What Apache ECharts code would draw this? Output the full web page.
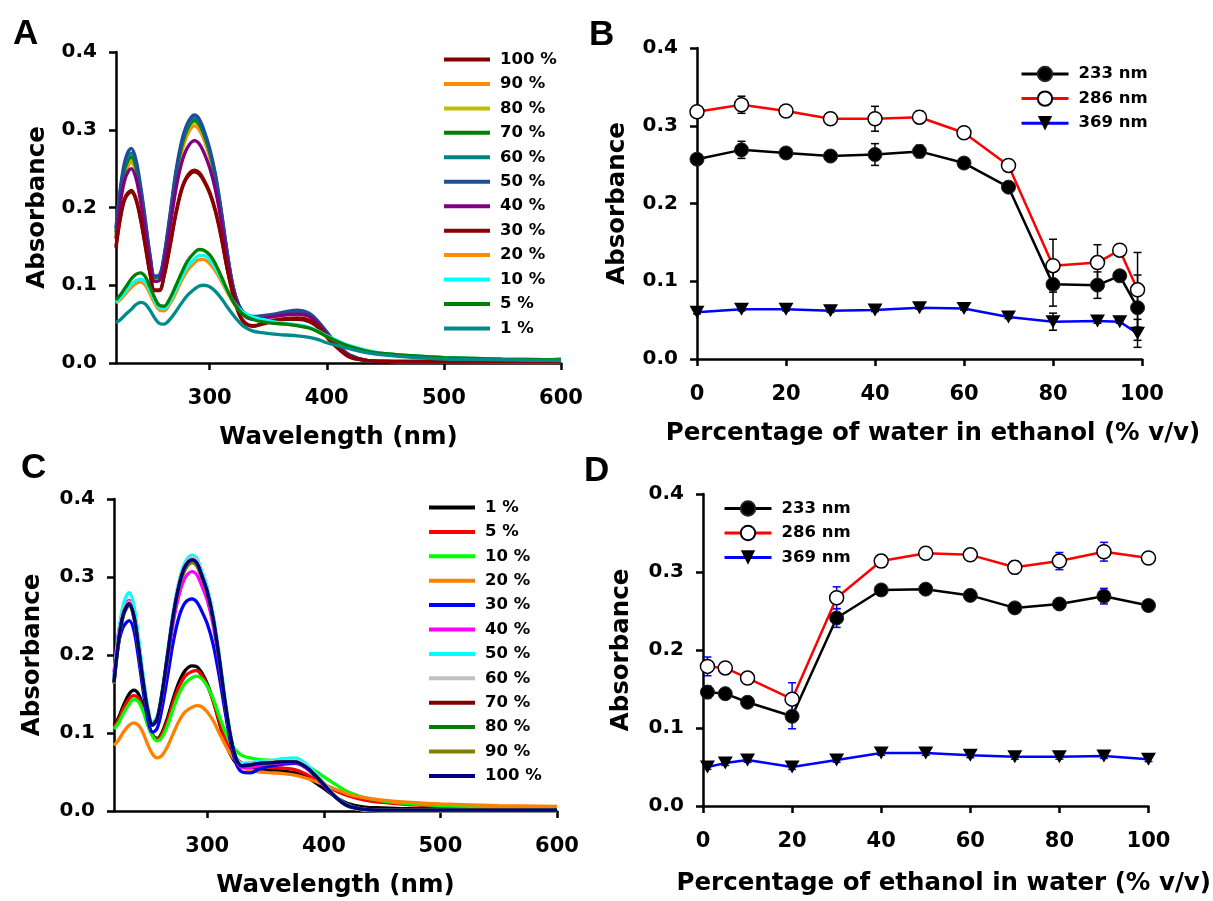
<!DOCTYPE html>
<html><head><meta charset="utf-8">
<script src="https://cdn.jsdelivr.net/npm/echarts@6/dist/echarts.min.js"></script>
<style>html,body{margin:0;padding:0;background:#fff}#c{width:1213px;height:901px}</style>
</head><body><div id="c"></div>
<script>
// ---------- DATA ----------
const wavelengths = [220,224,228,233,237,241,245,249,253,257,261,266,271,276,281,287,291,295,300,305,310,315,320,325,330,337,345,355,365,375,385,393,400,410,420,435,450,475,500,550,600];
const wlTicks = [300,400,500,600];

// Panel A (water in ethanol), legend order
const a100 = [0.148,0.188,0.212,0.220,0.210,0.184,0.150,0.115,0.093,0.093,0.111,0.149,0.190,0.222,0.239,0.246,0.243,0.234,0.218,0.194,0.160,0.120,0.087,0.063,0.051,0.048,0.050,0.054,0.056,0.056,0.053,0.045,0.033,0.018,0.007,0.003,0.002,0.002,0.002,0.003,0.003];
const a90  = [0.160,0.212,0.245,0.258,0.245,0.214,0.175,0.134,0.108,0.109,0.132,0.180,0.234,0.271,0.294,0.305,0.300,0.288,0.265,0.233,0.188,0.138,0.096,0.072,0.061,0.057,0.058,0.060,0.062,0.063,0.059,0.049,0.037,0.020,0.009,0.003,0.002,0.002,0.002,0.002,0.002];
const a80  = [0.165,0.217,0.249,0.262,0.249,0.217,0.177,0.135,0.109,0.110,0.134,0.183,0.238,0.276,0.299,0.310,0.305,0.292,0.269,0.236,0.190,0.139,0.097,0.073,0.062,0.058,0.059,0.061,0.063,0.064,0.060,0.050,0.038,0.021,0.009,0.003,0.002,0.002,0.002,0.002,0.002];
const a70  = [0.168,0.220,0.252,0.265,0.252,0.220,0.179,0.136,0.110,0.111,0.135,0.185,0.240,0.278,0.301,0.312,0.307,0.294,0.271,0.238,0.192,0.140,0.097,0.073,0.062,0.058,0.059,0.061,0.063,0.064,0.061,0.051,0.038,0.021,0.009,0.003,0.002,0.001,0.001,0.001,0.001];
const a60  = [0.172,0.224,0.257,0.270,0.257,0.224,0.182,0.138,0.111,0.112,0.136,0.187,0.242,0.281,0.304,0.315,0.310,0.297,0.273,0.240,0.193,0.141,0.098,0.074,0.063,0.059,0.060,0.062,0.064,0.066,0.062,0.052,0.039,0.021,0.010,0.003,0.002,0.001,0.001,0.001,0.001];
const a50  = [0.174,0.228,0.262,0.276,0.262,0.228,0.185,0.140,0.112,0.113,0.138,0.190,0.245,0.285,0.308,0.319,0.314,0.300,0.276,0.242,0.195,0.142,0.098,0.074,0.064,0.060,0.061,0.063,0.066,0.068,0.064,0.053,0.040,0.022,0.010,0.003,0.002,0.001,0.001,0.001,0.001];
const a40  = [0.160,0.208,0.238,0.250,0.238,0.208,0.170,0.130,0.105,0.106,0.128,0.173,0.222,0.257,0.277,0.286,0.282,0.271,0.251,0.222,0.181,0.134,0.094,0.071,0.060,0.056,0.057,0.060,0.062,0.063,0.060,0.050,0.037,0.020,0.009,0.003,0.002,0.001,0.001,0.002,0.005];
const a30  = [0.150,0.190,0.214,0.222,0.212,0.186,0.152,0.116,0.094,0.094,0.112,0.150,0.192,0.224,0.241,0.248,0.245,0.236,0.220,0.196,0.162,0.122,0.088,0.064,0.052,0.047,0.051,0.055,0.057,0.058,0.055,0.047,0.035,0.019,0.008,0.003,0.002,0.002,0.002,0.002,0.002];
const a20  = [0.077,0.082,0.089,0.097,0.102,0.104,0.100,0.089,0.077,0.068,0.067,0.076,0.090,0.106,0.119,0.129,0.133,0.133,0.128,0.118,0.105,0.091,0.078,0.068,0.062,0.057,0.054,0.052,0.050,0.048,0.045,0.040,0.034,0.027,0.021,0.015,0.012,0.009,0.007,0.005,0.004];
const a10  = [0.078,0.084,0.092,0.101,0.106,0.108,0.104,0.093,0.080,0.071,0.070,0.079,0.094,0.110,0.124,0.134,0.138,0.138,0.133,0.122,0.108,0.093,0.080,0.070,0.064,0.059,0.056,0.053,0.051,0.049,0.046,0.041,0.035,0.028,0.022,0.016,0.012,0.009,0.007,0.005,0.004];
const a5   = [0.081,0.088,0.097,0.108,0.114,0.116,0.111,0.098,0.084,0.074,0.073,0.083,0.099,0.116,0.131,0.142,0.146,0.145,0.139,0.127,0.111,0.094,0.079,0.068,0.061,0.056,0.053,0.051,0.050,0.048,0.045,0.040,0.034,0.027,0.021,0.015,0.012,0.009,0.007,0.005,0.004];
const a1   = [0.052,0.056,0.062,0.069,0.075,0.078,0.076,0.068,0.058,0.051,0.050,0.056,0.066,0.077,0.087,0.095,0.099,0.100,0.098,0.092,0.083,0.072,0.062,0.053,0.046,0.041,0.039,0.037,0.036,0.035,0.033,0.030,0.026,0.022,0.018,0.013,0.010,0.007,0.005,0.004,0.003];
const labelsA = ['100 %','90 %','80 %','70 %','60 %','50 %','40 %','30 %','20 %','10 %','5 %','1 %'];
const colorsA = ['#800000','#FF8C00','#BFBF00','#008000','#008080','#1F4E96','#800080','#8B0000','#FF8C00','#00FFFF','#008000','#008B8B'];

// Panel C (ethanol in water), legend order
const c1   = [0.110,0.120,0.135,0.150,0.155,0.150,0.134,0.114,0.098,0.093,0.100,0.120,0.145,0.166,0.180,0.186,0.185,0.178,0.163,0.142,0.115,0.090,0.072,0.061,0.057,0.054,0.053,0.052,0.051,0.049,0.044,0.036,0.029,0.018,0.010,0.005,0.004,0.003,0.003,0.002,0.002];
const c5   = [0.108,0.117,0.131,0.144,0.148,0.144,0.130,0.111,0.097,0.092,0.098,0.116,0.140,0.160,0.173,0.179,0.180,0.174,0.161,0.141,0.117,0.094,0.077,0.067,0.061,0.058,0.057,0.056,0.055,0.053,0.047,0.040,0.034,0.026,0.020,0.014,0.011,0.008,0.006,0.005,0.004];
const c10  = [0.105,0.113,0.125,0.137,0.143,0.140,0.128,0.110,0.096,0.090,0.094,0.110,0.132,0.151,0.164,0.171,0.173,0.170,0.160,0.144,0.123,0.103,0.087,0.077,0.071,0.068,0.066,0.065,0.064,0.063,0.058,0.051,0.044,0.034,0.025,0.017,0.013,0.009,0.007,0.005,0.004];
const c20  = [0.084,0.091,0.101,0.110,0.113,0.110,0.100,0.085,0.073,0.068,0.071,0.083,0.100,0.116,0.127,0.133,0.135,0.134,0.127,0.116,0.101,0.086,0.073,0.063,0.056,0.052,0.050,0.049,0.048,0.046,0.042,0.038,0.034,0.028,0.022,0.017,0.014,0.011,0.009,0.007,0.006];
const c30  = [0.172,0.215,0.236,0.244,0.232,0.196,0.154,0.117,0.101,0.106,0.130,0.173,0.218,0.250,0.267,0.272,0.268,0.257,0.240,0.214,0.175,0.130,0.088,0.060,0.050,0.049,0.054,0.058,0.060,0.061,0.055,0.044,0.033,0.018,0.007,0.002,0.001,0.001,0.001,0.001,0.001];
const c40  = [0.178,0.230,0.258,0.270,0.256,0.216,0.170,0.131,0.112,0.118,0.146,0.194,0.243,0.278,0.299,0.307,0.303,0.290,0.270,0.239,0.193,0.140,0.094,0.065,0.056,0.056,0.059,0.061,0.062,0.062,0.055,0.044,0.033,0.018,0.007,0.002,0.001,0.001,0.001,0.001,0.001];
const c50  = [0.172,0.228,0.265,0.280,0.264,0.222,0.174,0.134,0.114,0.121,0.152,0.205,0.258,0.296,0.319,0.328,0.324,0.309,0.287,0.253,0.204,0.148,0.099,0.069,0.061,0.062,0.064,0.065,0.067,0.068,0.060,0.048,0.036,0.019,0.008,0.002,0.001,0.001,0.001,0.001,0.001];
const c60  = [0.170,0.222,0.256,0.268,0.253,0.213,0.168,0.130,0.111,0.119,0.150,0.202,0.255,0.293,0.316,0.325,0.321,0.306,0.284,0.250,0.201,0.145,0.097,0.067,0.059,0.060,0.062,0.063,0.064,0.065,0.057,0.046,0.035,0.018,0.006,0.001,0.000,0.000,0.000,0.000,0.000];
const c70  = [0.166,0.219,0.253,0.266,0.251,0.211,0.166,0.129,0.111,0.119,0.149,0.201,0.253,0.291,0.314,0.322,0.318,0.303,0.281,0.247,0.198,0.142,0.095,0.066,0.058,0.059,0.061,0.062,0.063,0.063,0.056,0.045,0.034,0.018,0.007,0.002,0.001,0.001,0.001,0.001,0.001];
const c80  = [0.164,0.217,0.251,0.264,0.249,0.209,0.165,0.128,0.110,0.118,0.148,0.199,0.251,0.289,0.311,0.320,0.316,0.301,0.280,0.246,0.197,0.142,0.095,0.066,0.058,0.059,0.061,0.062,0.063,0.063,0.056,0.045,0.034,0.018,0.007,0.002,0.001,0.001,0.001,0.001,0.001];
const c90  = [0.163,0.216,0.250,0.263,0.248,0.208,0.164,0.128,0.110,0.118,0.147,0.198,0.250,0.287,0.309,0.318,0.314,0.300,0.279,0.245,0.197,0.142,0.095,0.066,0.058,0.059,0.061,0.062,0.063,0.063,0.056,0.045,0.034,0.018,0.007,0.002,0.001,0.001,0.001,0.001,0.001];
const c100 = [0.165,0.218,0.252,0.265,0.250,0.210,0.165,0.128,0.110,0.118,0.148,0.200,0.252,0.290,0.313,0.322,0.318,0.303,0.281,0.247,0.198,0.142,0.095,0.066,0.058,0.059,0.061,0.062,0.063,0.063,0.056,0.045,0.034,0.018,0.007,0.002,0.001,0.001,0.001,0.001,0.001];
const labelsC = ['1 %','5 %','10 %','20 %','30 %','40 %','50 %','60 %','70 %','80 %','90 %','100 %'];
const colorsC = ['#000000','#FF0000','#00FF00','#FF8000','#0000FF','#FF00FF','#00FFFF','#C0C0C0','#800000','#008000','#808000','#000080'];

// Panel B (water in ethanol)
const waterPct = [0,10,20,30,40,50,60,70,80,90,95,99];
const b233 = [0.257,0.269,0.265,0.261,0.263,0.267,0.252,0.221,0.096,0.095,0.107,0.066];
const b233Err = [0.003,0.011,0.003,0.003,0.014,0.008,0.003,0.003,0.028,0.017,0.003,0.042];
const b286 = [0.318,0.327,0.319,0.309,0.309,0.311,0.291,0.249,0.120,0.124,0.140,0.089];
const b286Err = [0.003,0.011,0.003,0.003,0.016,0.008,0.003,0.003,0.034,0.023,0.003,0.048];
const b369 = [0.060,0.064,0.064,0.062,0.063,0.066,0.065,0.054,0.048,0.049,0.048,0.033];
const b369Err = [0.002,0.002,0.002,0.002,0.002,0.002,0.002,0.002,0.011,0.003,0.002,0.018];

// Panel D (ethanol in water)
const ethanolPct = [1,5,10,20,30,40,50,60,70,80,90,100];
const d233 = [0.146,0.144,0.133,0.115,0.241,0.277,0.278,0.270,0.254,0.259,0.269,0.257];
const d233Err = [0.008,0.004,0.004,0.016,0.012,0.004,0.002,0.003,0.005,0.004,0.010,0.004];
const d286 = [0.179,0.177,0.164,0.137,0.267,0.314,0.324,0.322,0.306,0.314,0.326,0.318];
const d286Err = [0.012,0.007,0.007,0.021,0.014,0.008,0.003,0.003,0.008,0.011,0.012,0.003];
const d369 = [0.050,0.055,0.059,0.050,0.059,0.068,0.068,0.065,0.063,0.063,0.064,0.060];
const d369Err = [0.003,0.003,0.003,0.003,0.003,0.003,0.003,0.003,0.003,0.003,0.003,0.003];
const lineNames = ['233 nm','286 nm','369 nm'];

// ---------- BUILD ----------
const FONT = 'DejaVu Sans';
const specA = [a100,a90,a80,a70,a60,a50,a40,a30,a20,a10,a5,a1];
const specC = [c1,c5,c10,c20,c30,c40,c50,c60,c70,c80,c90,c100];
const zip = (xs, ys) => xs.map((x,i)=>[x, ys[i]]);

function yAxisCfg(gi, gap) {
  return {gridIndex: gi, type:'value', min:0, max:0.4, interval:0.1,
    name:'Absorbance', nameLocation:'middle', nameGap:gap,
    nameTextStyle:{fontFamily:FONT, fontWeight:'bold', fontSize:24.5, color:'#000'},
    axisLine:{show:true, lineStyle:{color:'#000', width:2.5}},
    axisTick:{show:true, length:7, lineStyle:{color:'#000', width:2.5}},
    axisLabel:{color:'#000', fontFamily:FONT, fontWeight:'bold', fontSize:20, margin:19, formatter: v => v.toFixed(1)},
    splitLine:{show:false}};
}
function xAxisCfg(gi, name, gap, spec, padLeft) {
  const ax = {gridIndex: gi, type:'value', name:name, nameLocation:'middle', nameGap:gap,
    nameTextStyle:{fontFamily:FONT, fontWeight:'bold', fontSize:24.5, color:'#000', padding:[0,0,0,padLeft||0]},
    axisLine:{show:true, onZero:false, lineStyle:{color:'#000', width:2.5}},
    axisTick:{show:true, length:7, lineStyle:{color:'#000', width:2.5}},
    axisLabel:{color:'#000', fontFamily:FONT, fontWeight:'bold', fontSize:21, margin:25},
    splitLine:{show:false}};
  if (spec) {
    ax.min = 220; ax.max = 600;
    ax.axisTick.customValues = wlTicks;
    ax.axisLabel.customValues = wlTicks;
  } else {
    ax.min = 0; ax.max = 100; ax.interval = 20;
  }
  return ax;
}
function errSeries(xs, vals, errs, idx, color, cap) {
  return {type:'custom', xAxisIndex:idx, yAxisIndex:idx, z:1, silent:true,
    data: xs.map((x,i)=>[x, vals[i]-errs[i], vals[i]+errs[i]]),
    encode:{x:0, y:[1,2]},
    renderItem: (params, api) => {
      const lo = api.coord([api.value(0), api.value(1)]);
      const hi = api.coord([api.value(0), api.value(2)]);
      const st = {stroke:color, lineWidth:1.5};
      return {type:'group', children:[
        {type:'line', shape:{x1:lo[0],y1:lo[1],x2:hi[0],y2:hi[1]}, style:st},
        {type:'line', shape:{x1:lo[0]-cap,y1:lo[1],x2:lo[0]+cap,y2:lo[1]}, style:st},
        {type:'line', shape:{x1:hi[0]-cap,y1:hi[1],x2:hi[0]+cap,y2:hi[1]}, style:st}]};
    }};
}
function markerSeries(prefix, idx, xs, vals) {
  const common = {type:'line', xAxisIndex:idx, yAxisIndex:idx, z:3, emphasis:{disabled:true}};
  return [
    Object.assign({}, common, {name:prefix+'233 nm', data:zip(xs, vals[0]), symbol:'circle', symbolSize:14,
      lineStyle:{color:'#000', width:2.5}, itemStyle:{color:'#000', borderColor:'#222', borderWidth:1}}),
    Object.assign({}, common, {name:prefix+'286 nm', data:zip(xs, vals[1]), symbol:'circle', symbolSize:14,
      lineStyle:{color:'#FF0000', width:2.5}, itemStyle:{color:'#FFFFFF', borderColor:'#000', borderWidth:1.5}}),
    Object.assign({}, common, {name:prefix+'369 nm', data:zip(xs, vals[2]), symbol:'triangle', symbolRotate:180, symbolSize:[15,13],
      lineStyle:{color:'#0000FF', width:2.5}, itemStyle:{color:'#000'}})
  ];
}

const series = [];
labelsA.forEach((l,i) => series.push({type:'line', name:'A|'+l, xAxisIndex:0, yAxisIndex:0, data:zip(wavelengths, specA[i]),
  symbol:'none', smooth:0.35, lineStyle:{color:colorsA[i], width:3.3}, itemStyle:{color:colorsA[i]}, emphasis:{disabled:true}, z:2}));
labelsC.forEach((l,i) => series.push({type:'line', name:'C|'+l, xAxisIndex:2, yAxisIndex:2, data:zip(wavelengths, specC[i]),
  symbol:'none', smooth:0.35, lineStyle:{color:colorsC[i], width:3.3}, itemStyle:{color:colorsC[i]}, emphasis:{disabled:true}, z:2}));
series.push(errSeries(waterPct, b233, b233Err, 1, '#000', 4));
series.push(errSeries(waterPct, b286, b286Err, 1, '#000', 4));
series.push(errSeries(waterPct, b369, b369Err, 1, '#000', 4));
series.push(...markerSeries('B|', 1, waterPct, [b233, b286, b369]));
series.push(errSeries(ethanolPct, d233, d233Err, 3, '#0000FF', 4));
series.push(errSeries(ethanolPct, d286, d286Err, 3, '#0000FF', 4));
series.push(errSeries(ethanolPct, d369, d369Err, 3, '#0000FF', 4));
series.push(...markerSeries('D|', 3, ethanolPct, [d233, d286, d369]));

const legText = {fontFamily:FONT, fontWeight:'bold', fontSize:16.5, color:'#000', lineHeight:20, padding:[0,0,0,5]};
const fmt = n => n.split('|')[1];

const option = {
  animation:false,
  backgroundColor:'#fff',
  grid:[
    {left:116, top:52, width:445, height:311},
    {left:697, top:48, width:445, height:311},
    {left:114, top:499, width:443, height:312},
    {left:703, top:494, width:446, height:312}
  ],
  xAxis:[
    xAxisCfg(0, 'Wavelength (nm)', 62, true),
    xAxisCfg(1, 'Percentage of water in ethanol (% v/v)', 62, false, 27),
    xAxisCfg(2, 'Wavelength (nm)', 62, true),
    xAxisCfg(3, 'Percentage of ethanol in water (% v/v)', 65, false, 36)
  ],
  yAxis:[ yAxisCfg(0, 66), yAxisCfg(1, 67), yAxisCfg(2, 69), yAxisCfg(3, 69) ],
  legend:[
    {data:labelsA.map(l=>'A|'+l), formatter:fmt, orient:'vertical', left:444, top:49.5, padding:0, icon:'rect',
     itemWidth:46, itemHeight:4, itemGap:4.45, selectedMode:false, textStyle:legText},
    {data:lineNames.map(l=>'B|'+l), formatter:fmt, orient:'vertical', left:1020, top:64, padding:0,
     itemWidth:47, itemHeight:18, itemGap:4.6, selectedMode:false, textStyle:legText, lineStyle:{width:3}},
    {data:labelsC.map(l=>'C|'+l), formatter:fmt, orient:'vertical', left:429, top:497.5, padding:0, icon:'rect',
     itemWidth:46, itemHeight:4, itemGap:4.4, selectedMode:false, textStyle:legText},
    {data:lineNames.map(l=>'D|'+l), formatter:fmt, orient:'vertical', left:723, top:498.5, padding:0,
     itemWidth:47, itemHeight:18, itemGap:4.5, selectedMode:false, textStyle:legText, lineStyle:{width:3}}
  ],
  graphic:[
    {type:'text', x:13, y:34, style:{text:'A', font:'bold 35px "Liberation Sans"', fill:'#000', verticalAlign:'middle'}},
    {type:'text', x:589, y:35, style:{text:'B', font:'bold 35px "Liberation Sans"', fill:'#000', verticalAlign:'middle'}},
    {type:'text', x:21, y:468, style:{text:'C', font:'bold 35px "Liberation Sans"', fill:'#000', verticalAlign:'middle'}},
    {type:'text', x:584, y:471, style:{text:'D', font:'bold 35px "Liberation Sans"', fill:'#000', verticalAlign:'middle'}}
  ],
  series: series
};
const chart = echarts.init(document.getElementById('c'), null, {renderer:'canvas'});
chart.setOption(option);
</script>
</body></html>
